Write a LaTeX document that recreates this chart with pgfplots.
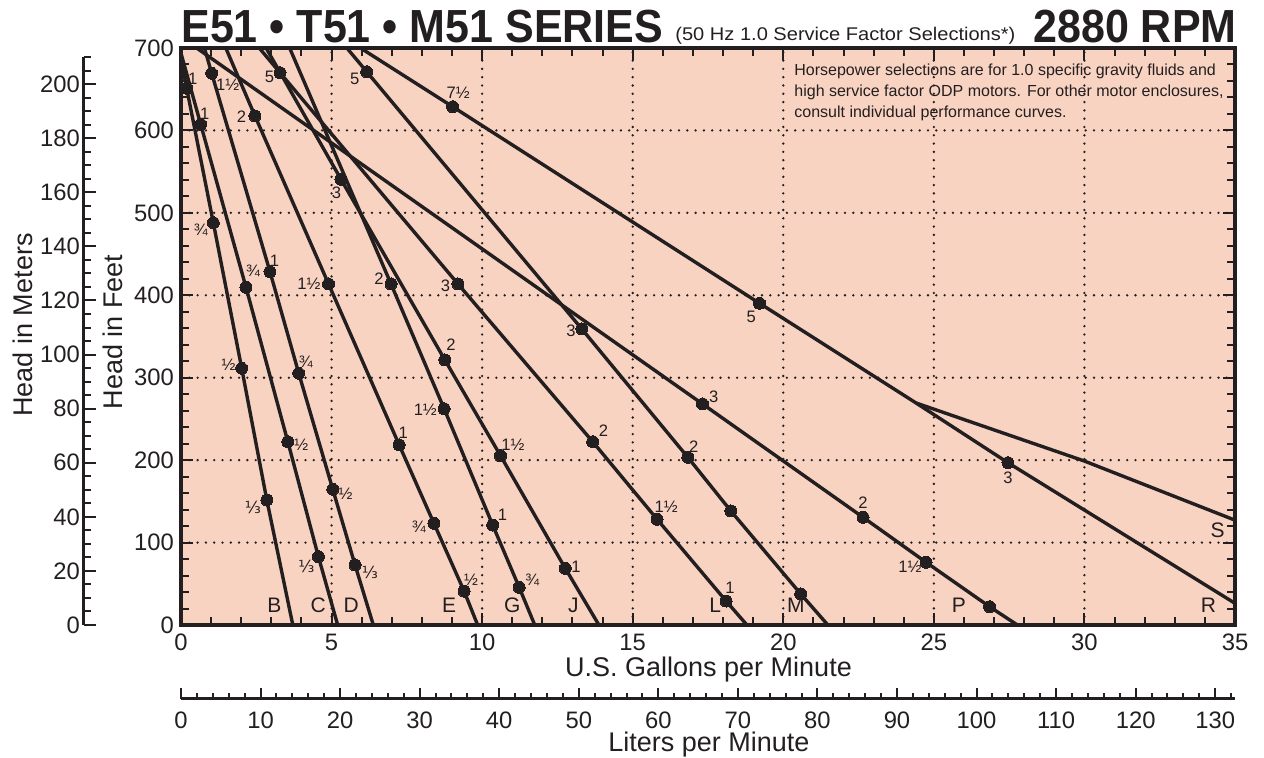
\documentclass[border=0pt]{standalone}
\usepackage{pgfplots}
\pgfplotsset{compat=1.18}
\usepackage{graphicx}
\usepackage{fontspec}
\setmainfont{Liberation Sans}
\newfontfamily\dv{DejaVu Sans}
\definecolor{bg}{RGB}{249,211,194}
\definecolor{ink}{RGB}{35,31,32}
\newcommand\third{{\dv ⅓}}
\newcommand\hpf{\fontsize{8.3}{9}\selectfont}
\newcommand\lf{\fontsize{10.5}{11}\selectfont}
\newcommand\tlf{\fontsize{11.9}{12}\selectfont}
\newcommand\alf{\fontsize{13.5}{14}\selectfont}
\pgfplotsset{
  curve/.style={ink, line width=1.7pt, no marks, line join=round},
  dots/.style={ink, only marks, mark=*, mark size=3pt, mark options={draw=ink, fill=ink, line width=0pt}},
}
\newcommand{\hp}[5]{\node[font=\hpf, inner sep=0pt, text=ink] at ([shift={(#4pt,#5pt)}]axis cs:#1,#2) {#3};}
\newcommand{\lt}[3]{\node[font=\lf, inner sep=0pt, text=ink] at (axis cs:#1,#2) {#3};}

\begin{document}
\begin{tikzpicture}
\useasboundingbox (-90.5pt,-66.5pt) rectangle (541.5pt,312.5pt);

% ---------- meters axis ----------
\begin{axis}[
  at={(-48.5pt,0pt)}, anchor=south west,
  scale only axis, width=5pt, height=283.96pt,
  xmin=0, xmax=1, ymin=0, ymax=210,
  hide x axis, axis y line=left,
  axis line style={-, ink, line width=1.5pt},
  ytick={0,20,...,200}, minor ytick={0,5,...,210},
  tick align=inside, major tick length=6pt, minor tick length=3.5pt,
  every tick/.style={ink, line width=1pt},
  yticklabel style={font=\tlf, text=ink, xshift=1.5pt},
  /pgf/number format/assume math mode=true,
]
\addplot[draw=none] coordinates {(0.5,0)};
\end{axis}

% ---------- liters axis ----------
\begin{axis}[
  at={(0pt,-37pt)}, anchor=south west,
  scale only axis, width=527pt, height=5pt,
  xmin=0, xmax=132.4875, ymin=0, ymax=1,
  hide y axis, axis x line=bottom,
  axis line style={-, ink, line width=1.5pt},
  xtick={0,10,...,130}, minor xtick={0,2,...,132},
  tick align=inside, major tick length=5.5pt, minor tick length=2.8pt,
  every tick/.style={ink, line width=1pt},
  xticklabel style={font=\tlf, text=ink, yshift=-3pt},
  /pgf/number format/assume math mode=true,
]
\addplot[draw=none] coordinates {(0,0.5)};
\end{axis}

% ---------- main axis ----------
\begin{axis}[
  at={(0pt,0pt)}, anchor=south west,
  scale only axis, width=527pt, height=288.5pt,
  xmin=0, xmax=35, ymin=0, ymax=700,
  axis background/.style={fill=bg},
  axis line style={ink, line width=2pt},
  xtick={0,5,...,35}, minor xtick={0,1,...,35},
  ytick={0,100,...,700}, minor ytick={0,20,...,700},
  tick align=inside, major tick length=6pt, minor tick length=4pt,
  every tick/.style={ink, line width=1pt},
  grid=major,
  major grid style={ink, line width=1.3pt, dash pattern=on 0pt off 4.15pt, line cap=round},
  ticklabel style={font=\tlf, text=ink},
  xticklabel style={yshift=-1pt},
  /pgf/number format/assume math mode=true,
]
% curves
\addplot[curve] coordinates {(-0.18,720) (0.189,651.1) (1.073,488.1) (2.016,311.4) (2.85,151.6) (3.77,-10)};
\addplot[curve] coordinates {(-0.2,720) (0.654,607.4) (2.158,409.7) (3.547,222.4) (4.563,82.9) (5.28,-10)};
\addplot[curve] coordinates {(0.70,710) (1.019,669.3) (2.955,428.6) (3.91,305.4) (5.04,164.6) (5.78,72.8) (6.47,-10)};
\addplot[curve] coordinates {(1.37,710) (2.457,617.5) (4.90,413.7) (7.246,218.4) (8.398,123.4) (9.40,41.2) (9.96,-10)};
\addplot[curve] coordinates {(3.49,710) (6.974,413.7) (8.737,262.4) (10.35,121.3) (11.23,45.7) (11.86,-10)};
\addplot[curve] coordinates {(2.67,710) (5.313,540.7) (8.763,321.5) (10.61,205.4) (12.76,68.8) (14.04,-10)};
\addplot[curve] coordinates {(2.37,710) (3.288,670.0) (9.198,413.7) (13.67,222.4) (15.81,128.2) (18.10,29.1) (19.03,-10)};
\addplot[curve] coordinates {(5.28,710) (6.167,671.2) (13.31,359.1) (16.83,203.4) (18.26,138.3) (20.58,37.6) (21.72,-10)};
\addplot[curve] coordinates {(0.13,710) (17.32,268.1) (22.65,130.6) (24.74,76.1) (26.85,22.2) (28.19,-10)};
\addplot[curve] coordinates {(5.53,710) (9.02,628.8) (19.21,390.3) (24.41,269.3) (27.46,196.9) (35.5,15)};
\addplot[curve] coordinates {(24.41,269.3) (29.99,199.0) (35.5,120)};
% selection points
\addplot[dots] coordinates {(0.189,651.1) (1.073,488.1) (2.016,311.4) (2.85,151.6)};
\addplot[dots] coordinates {(0.654,607.4) (2.158,409.7) (3.547,222.4) (4.563,82.9)};
\addplot[dots] coordinates {(1.019,669.3) (2.955,428.6) (3.91,305.4) (5.04,164.6) (5.78,72.8)};
\addplot[dots] coordinates {(2.457,617.5) (4.90,413.7) (7.246,218.4) (8.398,123.4) (9.40,41.2)};
\addplot[dots] coordinates {(6.974,413.7) (8.737,262.4) (10.35,121.3) (11.23,45.7)};
\addplot[dots] coordinates {(5.313,540.7) (8.763,321.5) (10.61,205.4) (12.76,68.8)};
\addplot[dots] coordinates {(3.288,670.0) (9.198,413.7) (13.67,222.4) (15.81,128.2) (18.10,29.1)};
\addplot[dots] coordinates {(6.167,671.2) (13.31,359.1) (16.83,203.4) (18.26,138.3) (20.58,37.6)};
\addplot[dots] coordinates {(17.32,268.1) (22.65,130.6) (24.74,76.1) (26.85,22.2)};
\addplot[dots] coordinates {(9.02,628.8) (19.21,390.3) (27.46,196.9)};
% hp labels
\hp{0.189}{651.1}{1}{3}{5}
\hp{1.073}{488.1}{¾}{-6.3}{-3.8}
\hp{2.016}{311.4}{½}{-6.6}{2}
\hp{2.85}{151.6}{\third}{-7}{-3.8}
\hp{0.654}{607.4}{1}{2}{5.5}
\hp{2.158}{409.7}{¾}{3.5}{8}
\hp{3.547}{222.4}{½}{6.8}{-1.6}
\hp{4.563}{82.9}{\third}{-6}{-4.7}
\hp{1.019}{669.3}{1½}{8}{-5.7}
\hp{2.955}{428.6}{1}{2.2}{5.6}
\hp{3.91}{305.4}{¾}{3.5}{5.5}
\hp{5.04}{164.6}{½}{6.4}{-2}
\hp{5.78}{72.8}{\third}{7.4}{-3.9}
\hp{2.457}{617.5}{2}{-6.8}{-0.5}
\hp{4.90}{413.7}{1½}{-9.8}{0}
\hp{7.246}{218.4}{1}{2}{6}
\hp{8.398}{123.4}{¾}{-7.5}{-1.8}
\hp{9.40}{41.2}{½}{3.5}{5.8}
\hp{6.974}{413.7}{2}{-6}{2.4}
\hp{8.737}{262.4}{1½}{-9.4}{-0.6}
\hp{10.35}{121.3}{1}{4.9}{5.2}
\hp{11.23}{45.7}{¾}{6.5}{3.7}
\hp{5.313}{540.7}{3}{-2.2}{-6.5}
\hp{8.763}{321.5}{2}{3}{7.4}
\hp{10.61}{205.4}{1½}{6.2}{5.5}
\hp{12.76}{68.8}{1}{5.4}{0.8}
\hp{3.288}{670.0}{5}{-5.3}{-2}
\hp{9.198}{413.7}{3}{-6.3}{-1}
\hp{13.67}{222.4}{2}{5.4}{5.5}
\hp{15.81}{128.2}{1½}{4.5}{6.2}
\hp{18.10}{29.1}{1}{2}{6.5}
\hp{6.167}{671.2}{5}{-6}{-3.4}
\hp{13.31}{359.1}{3}{-5.4}{-0.8}
\hp{16.83}{203.4}{2}{3}{5.5}
\hp{17.32}{268.1}{3}{5.6}{3.4}
\hp{22.65}{130.6}{2}{0}{7.3}
\hp{24.74}{76.1}{1½}{-8}{-2.3}
\hp{9.02}{628.8}{7½}{2.8}{7}
\hp{19.21}{390.3}{5}{-4.1}{-7}
\hp{27.46}{196.9}{3}{0}{-7.6}
% pump letters
\lt{3.10}{24.3}{B}
\lt{4.56}{24.3}{C}
\lt{5.65}{24.3}{D}
\lt{8.90}{24.3}{E}
\lt{11.0}{24.3}{G}
\lt{13.03}{24.3}{J}
\lt{17.74}{24.3}{L}
\lt{20.42}{24.3}{M}
\lt{25.83}{24.3}{P}
\lt{34.12}{24.3}{R}
\lt{34.42}{114.4}{S}
\end{axis}

% ---------- texts ----------
\node[rotate=90, font=\alf, text=ink] at (-79pt,150pt) {Head in Meters};
\node[rotate=90, font=\alf, text=ink] at (-34pt,146.5pt) {Head in Feet};
\node[font=\alf, text=ink] at (263.75pt,-22.5pt) {U.S. Gallons per Minute};
\node[font=\alf, text=ink] at (264pt,-60pt) {Liters per Minute};
\node[anchor=base west, inner sep=0pt, font=\fontsize{21.5}{22}\selectfont\bfseries, text=ink] at (0pt,291pt) {\scalebox{1}[1.08]{E51 • T51 • M51 SERIES}};
\node[anchor=base west, inner sep=0pt, font=\fontsize{8.5}{9}\selectfont, text=ink] at (247pt,292pt) {\scalebox{1.18}[1.08]{(50 Hz 1.0 Service Factor Selections*)}};
\node[anchor=base east, inner sep=0pt, font=\fontsize{21.5}{22}\selectfont\bfseries, text=ink] at (528pt,291pt) {\scalebox{1}[1.08]{2880 RPM}};
\node[anchor=base west, inner sep=0pt, font=\fontsize{8}{9}\selectfont, text=ink] at (306.5pt,274.5pt) {Horsepower selections are for 1.0 specific gravity fluids and};
\node[anchor=base west, inner sep=0pt, font=\fontsize{8}{9}\selectfont, text=ink] at (306.5pt,264.2pt) {high service factor ODP motors. For other motor enclosures,};
\node[anchor=base west, inner sep=0pt, font=\fontsize{8}{9}\selectfont, text=ink] at (306.5pt,253.8pt) {consult individual performance curves.};
\end{tikzpicture}
\end{document}
